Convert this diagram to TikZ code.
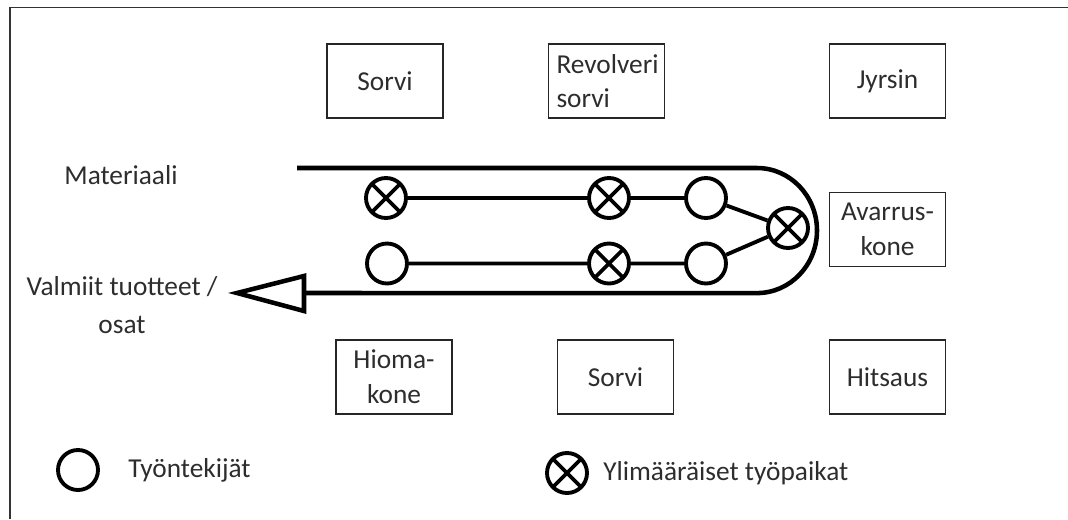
\documentclass[tikz,border=0pt]{standalone}
\usepackage{fontspec}
\setmainfont{Carlito}
\definecolor{inkgray}{RGB}{45,45,45}
\tikzset{
  machine/.style={draw=black!85, line width=1.2pt, minimum width=87pt, minimum height=55.5pt,
    inner sep=0pt, align=center, text=inkgray, font=\fontsize{20.5}{26}\selectfont},
  label/.style={text=inkgray, inner sep=0pt, align=center, font=\fontsize{20.5}{26}\selectfont},
  worker/.style={circle, draw=black, line width=2.9pt, minimum size=30pt, inner sep=0pt, fill=white},
  extra/.style={worker, path picture={
      \draw[line width=2.9pt] (path picture bounding box.center) ++(45:16pt) -- ++(225:32pt);
      \draw[line width=2.9pt] (path picture bounding box.center) ++(135:16pt) -- ++(-45:32pt);}},
  link/.style={draw=black, line width=2.9pt},
  belt/.style={draw=black, line width=3.4pt},
}
\begin{document}
\begin{tikzpicture}[x=0.75pt, y=-0.75pt]
\useasboundingbox (0,0) rectangle (1068,519);
% outer frame (only the top and left edges fall inside the page)
\draw[line width=1.2pt, black!80] (10,519) -- (10,7.5) -- (1068,7.5);

% machines
\node[machine] (sorviA) at (385,81) {Sorvi};
\node[machine, text width=75pt, align=left] (revolveri) at (606.5,81) {Revolveri\\sorvi};
\node[machine] (jyrsin) at (887.5,81) {Jyrsin};
\node[machine] (avarrus) at (887.5,229.5) {Avarrus-\\kone};
\node[machine] (hioma) at (394,377) {Hioma-\\kone};
\node[machine] (sorviB) at (615.5,377) {Sorvi};
\node[machine] (hitsaus) at (887.5,377) {Hitsaus};

% labels
\node[label] (materiaali) at (121,175) {Materiaali};
\node[label, font=\fontsize{20.5}{29}\selectfont] (valmiit) at (122,305) {Valmiit tuotteet /\\osat};

% conveyor loop
\coordinate (beltin) at (297,168);
\coordinate (turn) at (757,168);
\coordinate (beltout) at (304,293);
\coordinate (tip) at (237,293);
\draw[belt] (beltin) -- (turn) arc (90:-90:45pt and 46.9pt) -- (beltout);
\draw[belt, line join=miter] (beltout) -- (304,276) -- (tip) -- (304,311) -- cycle;

% workers and extra work stations
\node[extra]  (a1) at (386,198) {};
\node[extra]  (a2) at (609,198) {};
\node[worker] (a3) at (706,198) {};
\node[worker] (b1) at (387,263.5) {};
\node[extra]  (b2) at (609,263.5) {};
\node[worker] (b3) at (706,263.5) {};
\node[extra]  (c)  at (788,228) {};

\draw[link] (a1) -- (a2) -- (a3) -- (c);
\draw[link] (b1) -- (b2) -- (b3) -- (c);

% legend
\node[worker] (legw) at (78,470) {};
\node[label, anchor=west] (legwt) at (128,470) {Työntekijät};
\node[extra] (lege) at (567,473) {};
\node[label, anchor=west] (leget) at (603,473) {Ylimääräiset työpaikat};
\end{tikzpicture}
\end{document}
